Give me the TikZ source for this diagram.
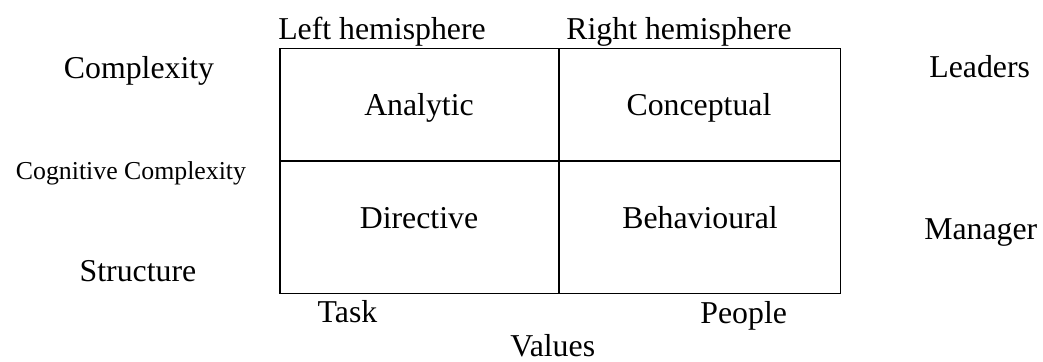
\documentclass[tikz,border=0pt]{standalone}
\usepackage{fontspec}
\setmainfont{Liberation Serif}

\begin{document}
\begin{tikzpicture}[x=0.5pt,y=-0.5pt,
    lbl/.style={anchor=base,inner sep=0pt,font=\fontsize{15.9}{19}\selectfont},
    smalllbl/.style={anchor=base,inner sep=0pt,font=\fontsize{12.9}{15}\selectfont},
    grid/.style={line width=0.65pt}]
    \useasboundingbox (0,0) rectangle (1043,361);

    % Grid
    \coordinate (nw) at (280,48.3);
    \coordinate (se) at (840.7,293.3);
    \draw[grid] (nw) rectangle (se);
    \draw[grid] (559,48.3) -- (559,293.3);
    \draw[grid] (280,161) -- (840.7,161);

    % Hemispheres
    \node[lbl] (lefthem) at (382,39.5) {Left hemisphere};
    \node[lbl] (righthem) at (679,39.5) {Right hemisphere};

    % Quadrants
    \node[lbl] (analytic) at (419,115) {Analytic};
    \node[lbl] (conceptual) at (699,115) {Conceptual};
    \node[lbl] (directive) at (419,228) {Directive};
    \node[lbl] (behavioural) at (700,228) {Behavioural};

    % Left side
    \node[lbl] (complexity) at (139,78.5) {Complexity};
    \node[smalllbl] (cognitive) at (131,179) {Cognitive Complexity};
    \node[lbl] (structure) at (138,281.7) {Structure};

    % Right side
    \node[lbl] (leaders) at (979.7,77.5) {Leaders};
    \node[lbl] (manager) at (980.8,239.5) {Manager};

    % Bottom
    \node[lbl] (task) at (347.5,322.5) {Task};
    \node[lbl] (people) at (743.7,323) {People};
    \node[lbl] (values) at (552.7,356.5) {Values};
\end{tikzpicture}
\end{document}
